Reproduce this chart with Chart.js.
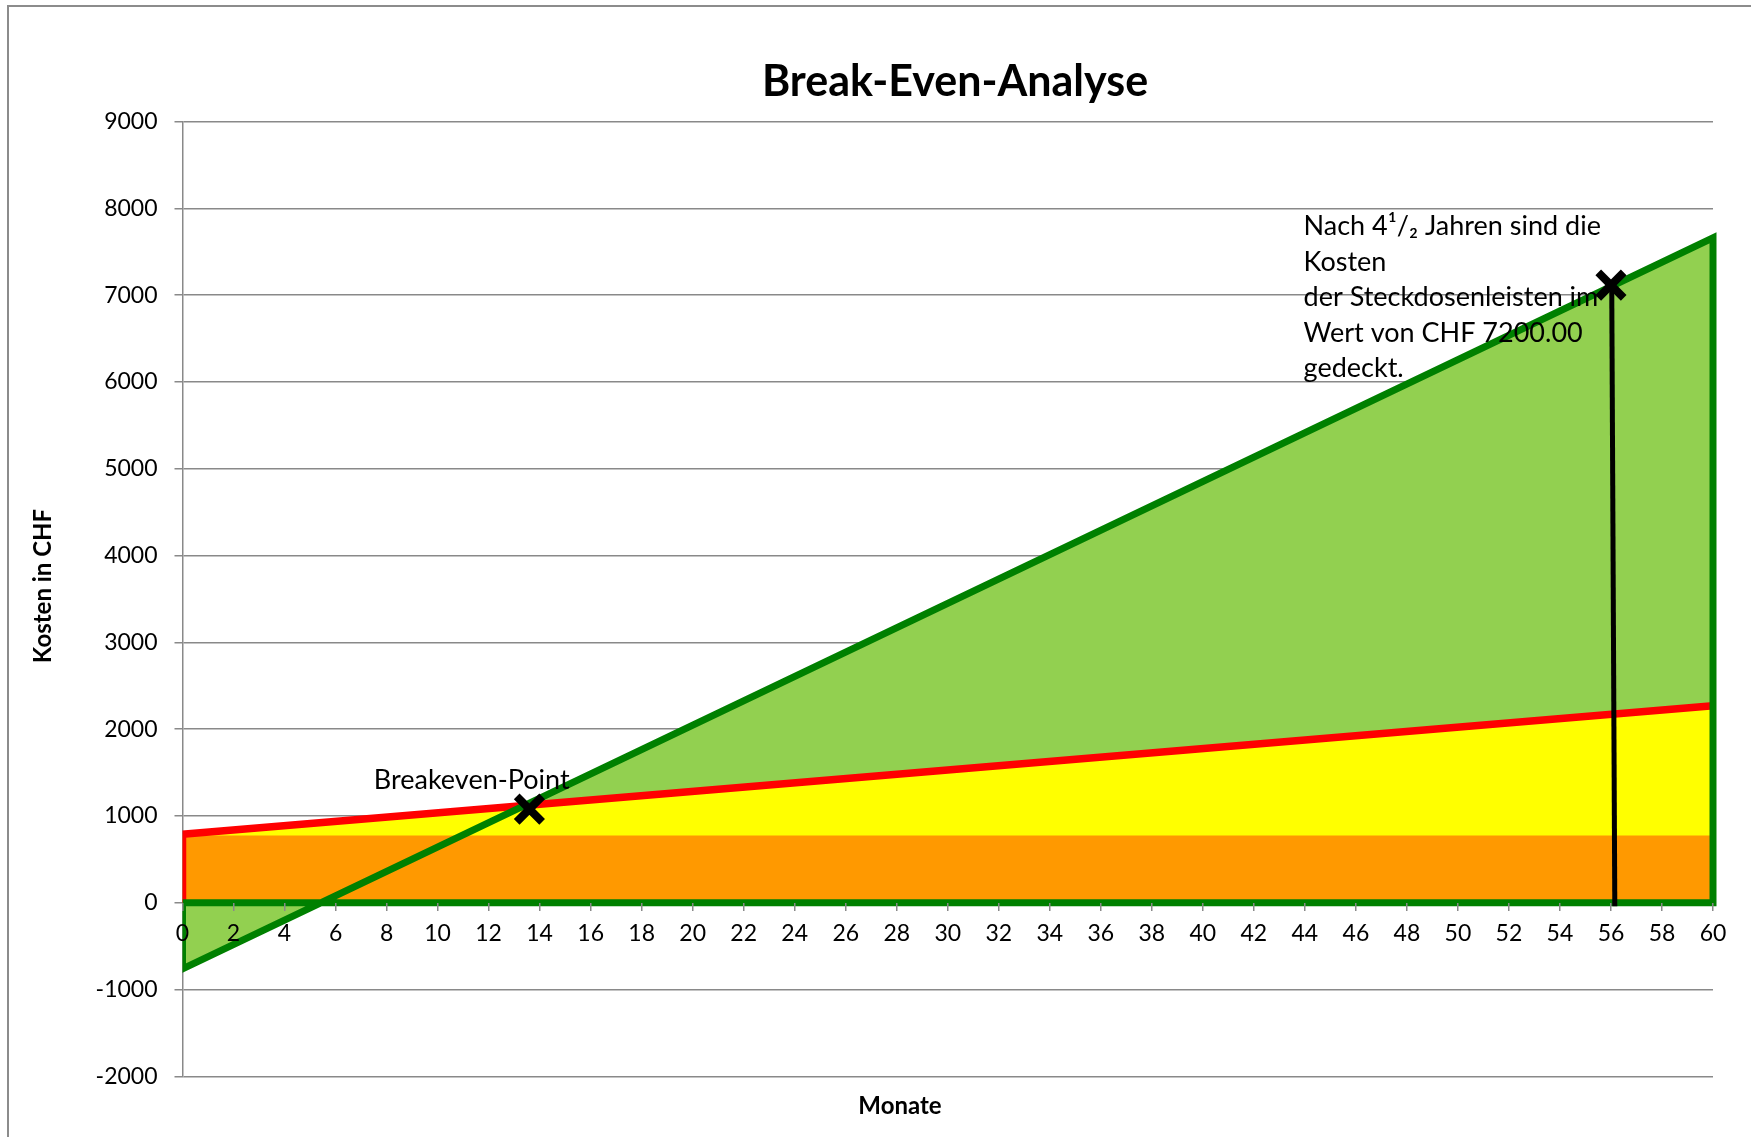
<!DOCTYPE html>
<html lang="de">
<head>
<meta charset="utf-8">
<title>Break-Even-Analyse</title>
<script src="https://cdn.jsdelivr.net/npm/chart.js@4.4.1/dist/chart.umd.min.js"></script>
<style>
  html, body { margin: 0; padding: 0; background: #fff; overflow: hidden; }
  #wrap { position: relative; width: 1751px; height: 1137px; }
  #frame { position: absolute; left: 7px; top: 5px; width: 1800px; height: 1200px; border: 2px solid #8c8c8c; box-sizing: border-box; }
  #chart { position: absolute; left: 0; top: 0; }
</style>
</head>
<body>
<div id="wrap">
  <div id="frame"></div>
  <canvas id="chart" width="1751" height="1137"></canvas>
</div>
<script>
// Werte (Linien sind Geraden -> Anfang und Ende)
const monate = [0, 60];
const ersparnis = [-760, 7660];      // grüne Linie
const gesamtkosten = [790, 2270];    // rote Linie (Fix + variabel)
const fixkosten = [775, 775];        // orange Fläche
const breakeven = { x: 13.6, y: 1080 };
const amortisation = { x: 56.0, y: 7115 };
const lotLinie = [{ x: 56.03, y: 7115 }, { x: 56.15, y: -40 }];

const xTicks = [0, 2, 4, 6, 8, 10, 12, 14, 16, 18, 20, 22, 24, 26, 28, 30, 32, 34, 36, 38, 40, 42, 44, 46, 48, 50, 52, 54, 56, 58, 60];
const yTicks = [-2000, -1000, 0, 1000, 2000, 3000, 4000, 5000, 6000, 7000, 8000, 9000];

const notizText = ['Nach 4\u00B9/\u2082 Jahren sind die', 'Kosten', 'der Steckdosenleisten im', 'Wert von CHF 7200.00', 'gedeckt.'];

const GRID = '#898989';
const FONT = 'Lato, "Open Sans", sans-serif';

const pts = (xs, ys) => xs.map((x, i) => ({ x: x, y: ys[i] }));
const noLine = 'rgba(0,0,0,0)';

// Texte: Titel, Achsentitel, Beschriftungen
const textPlugin = {
    id: 'texte',
    afterDatasetDraw(chart, args) {
        if (chart.data.datasets[args.index].label !== 'Lot') return;
        const ctx = chart.ctx;
        const x = chart.scales.x, y = chart.scales.y;
        ctx.save();
        ctx.fillStyle = '#000';
        ctx.font = '27px ' + FONT;
        ctx.textAlign = 'left';
        ctx.textBaseline = 'alphabetic';
        ctx.fillText('Breakeven-Point', x.getPixelForValue(7.5), y.getPixelForValue(1306));
        const nx = x.getPixelForValue(43.95);
        const ny = y.getPixelForValue(7692);
        notizText.forEach((t, i) => ctx.fillText(t, nx, ny + i * 35.5));
        ctx.restore();
    },
    afterDraw(chart) {
        const ctx = chart.ctx;
        ctx.save();
        ctx.fillStyle = '#000';
        ctx.textAlign = 'center';
        ctx.textBaseline = 'alphabetic';
        ctx.font = 'bold 43px ' + FONT;
        ctx.fillText('Break-Even-Analyse', 955, 96);
        ctx.font = 'bold 24px ' + FONT;
        ctx.textBaseline = 'middle';
        ctx.fillText('Monate', 900, 1106);
        ctx.translate(51, 586);
        ctx.rotate(-Math.PI / 2);
        ctx.textBaseline = 'alphabetic';
        ctx.fillText('Kosten in CHF', 0, 0);
        ctx.restore();
    }
};

const edgeClip = { left: 0, right: 6, top: 6, bottom: 6 };

new Chart(document.getElementById('chart').getContext('2d'), {
    type: 'line',
    data: {
        datasets: [
            { label: 'Ersparnis Fläche', data: pts(monate, ersparnis), fill: 'origin', backgroundColor: '#92D050', borderColor: noLine, borderWidth: 0, pointRadius: 0, order: 9 },
            { label: 'Variable Kosten', data: pts(monate, gesamtkosten), fill: 'origin', backgroundColor: '#FFFF00', borderColor: noLine, borderWidth: 0, pointRadius: 0, order: 8 },
            { label: 'Fixkosten', data: pts(monate, fixkosten), fill: 'origin', backgroundColor: '#FF9900', borderColor: noLine, borderWidth: 0, pointRadius: 0, order: 7 },
            { label: 'Kosten', data: [{ x: monate[0], y: 0 }].concat(pts(monate, gesamtkosten)), borderColor: '#FF0000', borderWidth: 7.5, borderJoinStyle: 'miter', fill: false, pointRadius: 0, clip: edgeClip, order: 6 },
            { label: 'Ersparnis', data: [{ x: monate[0], y: 0 }].concat(pts(monate, ersparnis), [{ x: monate[1], y: 0 }, { x: monate[0], y: 0 }]), borderColor: '#008000', borderWidth: 7, borderJoinStyle: 'miter', fill: false, pointRadius: 0, clip: edgeClip, order: 5 },
            { label: 'Lot', data: lotLinie, borderColor: '#000', borderWidth: 5, fill: false, pointRadius: 0, clip: false, order: 4 },
            { label: 'Punkte', data: [breakeven, amortisation], showLine: false, pointStyle: 'crossRot', pointRadius: 18, pointBorderWidth: 8, pointBorderColor: '#000', pointBackgroundColor: '#000', clip: false, order: 1 }
        ]
    },
    options: {
        responsive: false,
        animation: false,
        devicePixelRatio: 1,
        layout: { padding: { left: 0, top: 121.5, right: 38, bottom: 60.5 } },
        elements: { line: { tension: 0 } },
        plugins: { legend: { display: false }, tooltip: { enabled: false }, title: { display: false } },
        scales: {
            x: {
                type: 'linear', min: 0, max: 60, position: { y: 0 },
                afterBuildTicks: s => { s.ticks = xTicks.map(v => ({ value: v })); },
                grid: { drawOnChartArea: false, tickLength: 8, color: GRID, lineWidth: 1.5, z: 1 },
                border: { display: false },
                ticks: { color: '#000', font: { family: FONT, size: 23 }, padding: 9, maxRotation: 0, autoSkip: false, z: 1 }
            },
            y: {
                min: -2000, max: 9000,
                afterBuildTicks: s => { s.ticks = yTicks.map(v => ({ value: v })); },
                afterFit: s => { s.width = 182.5; },
                grid: { color: GRID, lineWidth: 1.5, tickLength: 8 },
                border: { color: GRID, width: 1.5 },
                ticks: { color: '#000', font: { family: FONT, size: 23 }, padding: 17, callback: v => String(v) }
            }
        }
    },
    plugins: [textPlugin]
});
</script>
</body>
</html>
